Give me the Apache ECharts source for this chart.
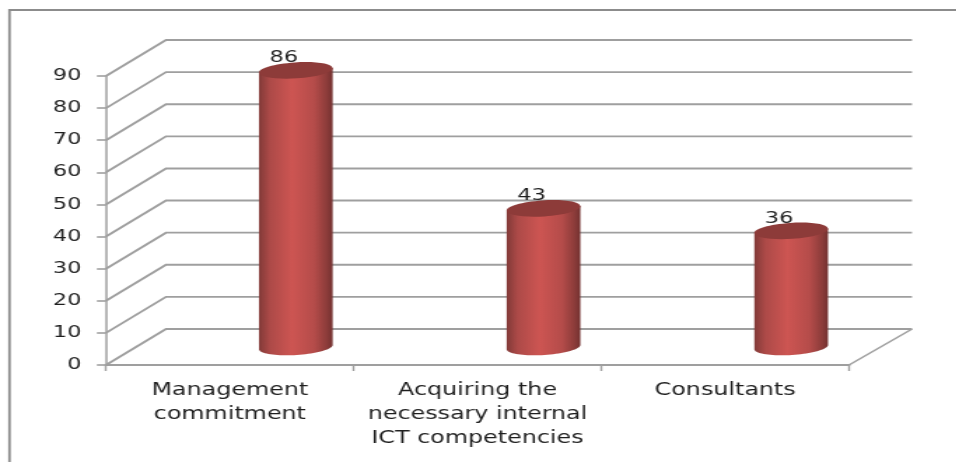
<!DOCTYPE html>
<html>
<head>
<meta charset="utf-8">
<style>
  html, body { margin: 0; padding: 0; background: #fff; overflow: hidden; }
  /* The chart is laid out narrow and widened as a whole, which gives the wide lettering. */
  #chart { width: 683px; height: 462px; transform: scaleX(1.4); transform-origin: 0 0; }
</style>
<script src="https://cdn.jsdelivr.net/npm/echarts@6/dist/echarts.min.js"></script>
</head>
<body>
<div id="chart"></div>
<script>
const categories = ['Management\ncommitment', 'Acquiring the\nnecessary internal\nICT competencies', 'Consultants'];
const values = [86, 43, 36];
const yTicks = [0, 10, 20, 30, 40, 50, 60, 70, 80, 90];

const WIDEN = 1.4;
const WALL_DX = 60 / WIDEN, WALL_DY = -36;
const WALL_END_DX = 63 / WIDEN;
const BAR_DX = 66 / WIDEN, BAR_DY = -18.5;
const BAR_RX = 37 / WIDEN, BAR_RY = 8;
const TILT = -0.09;
const GRID = '#9f9f9f';

// Point on the tilted rim of a cylinder, t in radians.
function rim(cx, cy, t) {
  const x = BAR_RX * Math.cos(t), y = BAR_RY * Math.sin(t);
  return [cx + x * Math.cos(TILT) - y * Math.sin(TILT), cy + x * Math.sin(TILT) + y * Math.cos(TILT)];
}

function renderWall(params, api) {
  const cs = params.coordSys;
  const x0 = cs.x, x1 = x0 + cs.width;
  const y = api.coord([0, api.value(0)])[1];
  return {
    type: 'polyline',
    shape: { points: [[x0, y], [x0 + WALL_DX, y + WALL_DY], [x1 + WALL_END_DX, y + WALL_DY]] },
    style: { stroke: GRID, lineWidth: 1.9, fill: null }
  };
}

function renderFloorEdge(params, api) {
  const cs = params.coordSys;
  const y = api.coord([0, 0])[1];
  const x1 = cs.x + cs.width;
  return {
    type: 'line',
    shape: { x1: x1, y1: y, x2: x1 + WALL_END_DX, y2: y + WALL_DY },
    style: { stroke: GRID, lineWidth: 1.6 }
  };
}

function renderCylinder(params, api) {
  const top = api.coord([api.value(0), api.value(1)]);
  const base = api.coord([api.value(0), 0]);
  const cx = top[0] + BAR_DX, ty = top[1] + BAR_DY, by = base[1] + BAR_DY + 0.5;
  const pts = [rim(cx, ty, Math.PI), rim(cx, ty, 0)];
  for (let i = 0; i <= 40; i++) pts.push(rim(cx, by, (i / 40) * Math.PI));
  return {
    type: 'group',
    children: [
      {
        type: 'polygon',
        shape: { points: pts },
        style: {
          fill: new echarts.graphic.LinearGradient(0, 0, 1, 0, [
            { offset: 0, color: '#823a38' },
            { offset: 0.15, color: '#ad4a48' },
            { offset: 0.45, color: '#cd5552' },
            { offset: 0.75, color: '#b54c4a' },
            { offset: 0.92, color: '#8c3c3a' },
            { offset: 1, color: '#733130' }
          ])
        }
      },
      {
        type: 'ellipse',
        shape: { cx: cx, cy: ty, rx: BAR_RX, ry: BAR_RY },
        rotation: -TILT,
        originX: cx,
        originY: ty,
        style: { fill: '#8d3b39' }
      },
      {
        type: 'text',
        style: {
          text: String(api.value(1)),
          x: cx - 12 / WIDEN,
          y: ty - 12.5,
          align: 'center',
          verticalAlign: 'middle',
          fill: '#1f1f1f',
          font: '16px "DejaVu Sans"'
        }
      }
    ]
  };
}

const chart = echarts.init(document.getElementById('chart'), null, { renderer: 'canvas' });
chart.setOption({
  animation: false,
  backgroundColor: '#fff',
  grid: { left: 106 / WIDEN, width: 743 / WIDEN, top: 76, height: 289 },
  graphic: [{
    type: 'rect',
    shape: { x: 9.5 / WIDEN, y: 10, width: 1000 / WIDEN, height: 470 },
    style: { fill: null, stroke: '#8c8c8c', lineWidth: 1.8 },
    silent: true
  }],
  xAxis: {
    type: 'category',
    data: categories,
    axisLine: { lineStyle: { color: GRID, width: 2 } },
    axisTick: { show: true, alignWithLabel: false, length: 6, lineStyle: { color: GRID, width: 1.4 } },
    axisLabel: {
      interval: 0,
      margin: 14,
      color: '#1f1f1f',
      fontFamily: 'DejaVu Sans',
      fontSize: 17,
      lineHeight: 24
    }
  },
  yAxis: {
    type: 'value',
    min: 0,
    max: 90,
    interval: 10,
    axisLine: { show: true, lineStyle: { color: GRID, width: 1.5 } },
    axisTick: { show: true, length: 6.5, lineStyle: { color: GRID, width: 1.6 } },
    splitLine: { show: false },
    axisLabel: {
      margin: 17.5,
      color: '#1f1f1f',
      fontFamily: 'DejaVu Sans',
      fontSize: 16,
      formatter: v => (yTicks.includes(v) ? String(v) : '')
    }
  },
  series: [
    { type: 'custom', coordinateSystem: 'cartesian2d', data: yTicks.map(v => [v]), renderItem: renderWall, encode: { y: 0 }, z: 1, silent: true },
    { type: 'custom', coordinateSystem: 'cartesian2d', data: [[0]], renderItem: renderFloorEdge, encode: { y: 0 }, z: 1, silent: true },
    { type: 'custom', coordinateSystem: 'cartesian2d', data: values.map((v, i) => [i, v]), renderItem: renderCylinder, encode: { x: 0, y: 1 }, z: 3, silent: true }
  ]
});
</script>
</body>
</html>
